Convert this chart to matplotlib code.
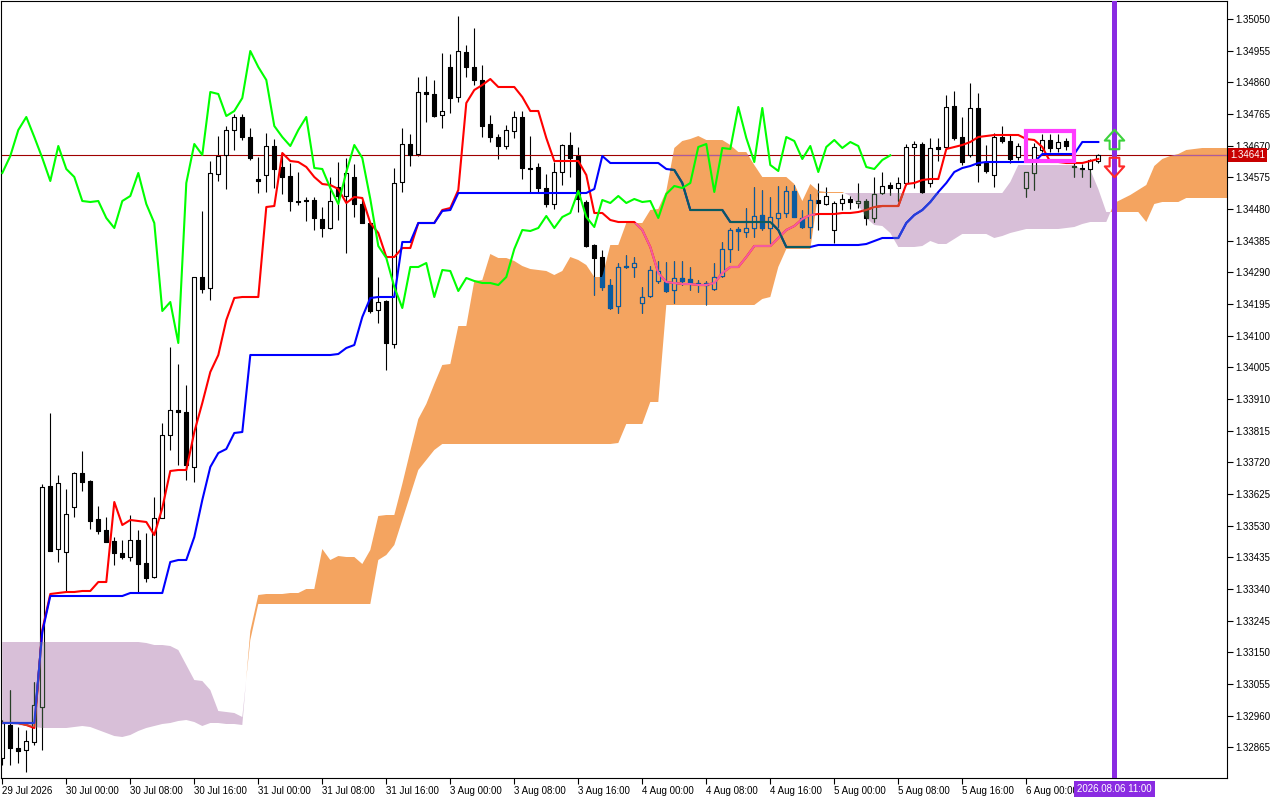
import numpy as np
import matplotlib.pyplot as plt
import matplotlib.transforms as mtransforms
from matplotlib.collections import LineCollection, PatchCollection
from matplotlib.patches import Rectangle
from matplotlib.path import Path
from matplotlib.colors import to_rgb

plt.rcParams['font.family'] = ['Liberation Sans', 'DejaVu Sans']

# GBPUSD-like H1 bars, 29 Jul 2026 16:00 .. 6 Aug 2026 09:00
opens = [
    1.32833, 1.32932, 1.32863, 1.32857, 1.32881, 1.32986, 1.33649, 1.33460, 1.33451, 1.33586,
    1.33688, 1.33664, 1.33550, 1.33517, 1.33484, 1.33448, 1.33436, 1.33487, 1.33418, 1.33376,
    1.33553, 1.33802, 1.33877, 1.33871, 1.33706, 1.34276, 1.34243, 1.34585, 1.34642, 1.34717,
    1.34756, 1.34696, 1.34570, 1.34582, 1.34669, 1.34606, 1.34579, 1.34504, 1.34507, 1.34507,
    1.34450, 1.34423, 1.34546, 1.34519, 1.34576, 1.34495, 1.34438, 1.34177, 1.34204, 1.34075,
    1.34561, 1.34675, 1.34645, 1.34831, 1.34825, 1.34762, 1.34906, 1.34816, 1.34951, 1.34906,
    1.34867, 1.34735, 1.34696, 1.34669, 1.34714, 1.34756, 1.34603, 1.34606, 1.34543, 1.34495,
    1.34591, 1.34672, 1.34639, 1.34501, 1.34372, 1.34336, 1.34252, 1.34189, 1.34309, 1.34306,
    1.34198, 1.34219, 1.34264, 1.34261, 1.34237, 1.34273, 1.34270, 1.34255, 1.34258, 1.34240,
    1.34279, 1.34360, 1.34420, 1.34411, 1.34423, 1.34462, 1.34423, 1.34453, 1.34468, 1.34534,
    1.34453, 1.34426, 1.34507, 1.34495, 1.34417, 1.34498, 1.34510, 1.34498, 1.34504, 1.34453,
    1.34528, 1.34552, 1.34543, 1.34558, 1.34666, 1.34675, 1.34558, 1.34666, 1.34666, 1.34789,
    1.34696, 1.34642, 1.34783, 1.34618, 1.34582, 1.34696, 1.34684, 1.34636, 1.34543, 1.34588,
    1.34657, 1.34687, 1.34663, 1.34684, 1.34609, 1.34603, 1.34600, 1.34624]
highs = [
    1.32947, 1.33037, 1.32926, 1.32917, 1.33061, 1.33655, 1.33868, 1.33682, 1.33640, 1.33691,
    1.33754, 1.33667, 1.33589, 1.33556, 1.33496, 1.33487, 1.33562, 1.33517, 1.33508, 1.33616,
    1.33838, 1.34066, 1.34015, 1.33952, 1.34276, 1.34474, 1.34624, 1.34699, 1.34729, 1.34765,
    1.34765, 1.34723, 1.34636, 1.34708, 1.34690, 1.34648, 1.34618, 1.34591, 1.34516, 1.34516,
    1.34486, 1.34576, 1.34621, 1.34633, 1.34615, 1.34507, 1.34441, 1.34276, 1.34207, 1.34603,
    1.34723, 1.34705, 1.34876, 1.34879, 1.34867, 1.34948, 1.34945, 1.35059, 1.34972, 1.35023,
    1.34912, 1.34762, 1.34705, 1.34732, 1.34774, 1.34774, 1.34699, 1.34618, 1.34585, 1.34621,
    1.34675, 1.34711, 1.34666, 1.34507, 1.34375, 1.34357, 1.34270, 1.34318, 1.34342, 1.34336,
    1.34246, 1.34309, 1.34324, 1.34321, 1.34324, 1.34324, 1.34306, 1.34267, 1.34264, 1.34318,
    1.34381, 1.34423, 1.34426, 1.34483, 1.34546, 1.34537, 1.34516, 1.34549, 1.34549, 1.34552,
    1.34477, 1.34525, 1.34558, 1.34546, 1.34504, 1.34525, 1.34519, 1.34558, 1.34510, 1.34576,
    1.34591, 1.34561, 1.34576, 1.34675, 1.34684, 1.34681, 1.34693, 1.34693, 1.34822, 1.34834,
    1.34756, 1.34858, 1.34828, 1.34672, 1.34708, 1.34729, 1.34702, 1.34678, 1.34591, 1.34678,
    1.34705, 1.34705, 1.34705, 1.34693, 1.34621, 1.34615, 1.34630, 1.34645]
lows = [
    1.32812, 1.32812, 1.32818, 1.32791, 1.32872, 1.32857, 1.33454, 1.33421, 1.33334, 1.33556,
    1.33634, 1.33520, 1.33505, 1.33481, 1.33412, 1.33430, 1.33424, 1.33328, 1.33361, 1.33373,
    1.33553, 1.33757, 1.33712, 1.33667, 1.33661, 1.34228, 1.34207, 1.34564, 1.34540, 1.34657,
    1.34687, 1.34627, 1.34528, 1.34531, 1.34543, 1.34525, 1.34474, 1.34492, 1.34444, 1.34417,
    1.34396, 1.34420, 1.34447, 1.34348, 1.34456, 1.34438, 1.34168, 1.34138, 1.33997, 1.34063,
    1.34531, 1.34609, 1.34639, 1.34741, 1.34756, 1.34723, 1.34768, 1.34801, 1.34876, 1.34852,
    1.34696, 1.34681, 1.34630, 1.34660, 1.34693, 1.34570, 1.34531, 1.34531, 1.34486, 1.34480,
    1.34552, 1.34576, 1.34471, 1.34366, 1.34222, 1.34237, 1.34180, 1.34168, 1.34303, 1.34276,
    1.34168, 1.34216, 1.34258, 1.34231, 1.34198, 1.34252, 1.34237, 1.34231, 1.34192, 1.34237,
    1.34276, 1.34321, 1.34357, 1.34396, 1.34396, 1.34417, 1.34378, 1.34426, 1.34456, 1.34456,
    1.34423, 1.34393, 1.34417, 1.34492, 1.34378, 1.34477, 1.34480, 1.34483, 1.34432, 1.34441,
    1.34525, 1.34522, 1.34504, 1.34552, 1.34543, 1.34528, 1.34546, 1.34624, 1.34663, 1.34687,
    1.34612, 1.34636, 1.34561, 1.34588, 1.34546, 1.34678, 1.34618, 1.34627, 1.34516, 1.34537,
    1.34651, 1.34651, 1.34651, 1.34657, 1.34576, 1.34576, 1.34546, 1.34618]
closes = [
    1.32938, 1.32863, 1.32854, 1.32884, 1.32992, 1.33646, 1.33454, 1.33658, 1.33565, 1.33688,
    1.33661, 1.33544, 1.33514, 1.33481, 1.33448, 1.33436, 1.33487, 1.33415, 1.33373, 1.33553,
    1.33802, 1.33877, 1.33871, 1.33712, 1.34276, 1.34240, 1.34588, 1.34639, 1.34717, 1.34756,
    1.34696, 1.34633, 1.34564, 1.34669, 1.34600, 1.34576, 1.34504, 1.34501, 1.34504, 1.34453,
    1.34423, 1.34504, 1.34519, 1.34588, 1.34495, 1.34438, 1.34174, 1.34201, 1.34078, 1.34558,
    1.34675, 1.34642, 1.34831, 1.34825, 1.34759, 1.34774, 1.34813, 1.34954, 1.34906, 1.34867,
    1.34729, 1.34696, 1.34669, 1.34717, 1.34756, 1.34603, 1.34600, 1.34543, 1.34495, 1.34591,
    1.34672, 1.34633, 1.34510, 1.34369, 1.34333, 1.34246, 1.34183, 1.34306, 1.34306, 1.34318,
    1.34216, 1.34297, 1.34294, 1.34234, 1.34273, 1.34264, 1.34258, 1.34258, 1.34252, 1.34276,
    1.34360, 1.34417, 1.34414, 1.34423, 1.34459, 1.34423, 1.34456, 1.34468, 1.34534, 1.34456,
    1.34426, 1.34507, 1.34498, 1.34519, 1.34498, 1.34510, 1.34501, 1.34504, 1.34453, 1.34525,
    1.34549, 1.34543, 1.34558, 1.34666, 1.34675, 1.34531, 1.34663, 1.34660, 1.34786, 1.34693,
    1.34621, 1.34783, 1.34612, 1.34594, 1.34696, 1.34684, 1.34630, 1.34669, 1.34591, 1.34666,
    1.34687, 1.34663, 1.34681, 1.34669, 1.34606, 1.34600, 1.34627, 1.34641]

# Ichimoku lines as shown (tenkan red, kijun blue)
tenkan = [
    1.32938, 1.32938, 1.32938, 1.32932, 1.32923, 1.33217, 1.33325, 1.33328, 1.33331, 1.33331,
    1.33334, 1.33334, 1.33361, 1.33361, 1.33601, 1.33532, 1.33547, 1.33544, 1.33541, 1.33502,
    1.33583, 1.33694, 1.33697, 1.33697, 1.33811, 1.33898, 1.33991, 1.34042, 1.34147, 1.34213,
    1.34216, 1.34216, 1.34216, 1.34486, 1.34489, 1.34648, 1.34624, 1.34621, 1.34606, 1.34576,
    1.34555, 1.34552, 1.34540, 1.34498, 1.34516, 1.34513, 1.34438, 1.34408, 1.34336, 1.34336,
    1.34363, 1.34363, 1.34438, 1.34438, 1.34438, 1.34477, 1.34483, 1.34537, 1.34798, 1.34837,
    1.34852, 1.34870, 1.34846, 1.34846, 1.34846, 1.34816, 1.34774, 1.34774, 1.34693, 1.34624,
    1.34624, 1.34624, 1.34624, 1.34582, 1.34468, 1.34468, 1.34447, 1.34441, 1.34441, 1.34441,
    1.34417, 1.34366, 1.34288, 1.34261, 1.34258, 1.34255, 1.34255, 1.34252, 1.34252, 1.34258,
    1.34288, 1.34306, 1.34306, 1.34336, 1.34369, 1.34369, 1.34369, 1.34393, 1.34417, 1.34429,
    1.34450, 1.34462, 1.34465, 1.34465, 1.34465, 1.34468, 1.34468, 1.34471, 1.34477, 1.34486,
    1.34489, 1.34489, 1.34489, 1.34555, 1.34558, 1.34567, 1.34570, 1.34570, 1.34660, 1.34666,
    1.34672, 1.34681, 1.34696, 1.34699, 1.34702, 1.34702, 1.34702, 1.34702, 1.34690, 1.34687,
    1.34666, 1.34621, 1.34621, 1.34618, 1.34618, 1.34618, 1.34624, 1.34630]
kijun = [
    1.32938, 1.32938, 1.32938, 1.32938, 1.32938, 1.33211, 1.33319, 1.33319, 1.33319, 1.33319,
    1.33319, 1.33319, 1.33319, 1.33319, 1.33319, 1.33319, 1.33328, 1.33328, 1.33328, 1.33328,
    1.33328, 1.33421, 1.33427, 1.33427, 1.33496, 1.33607, 1.33706, 1.33748, 1.33760, 1.33808,
    1.33811, 1.34042, 1.34042, 1.34042, 1.34042, 1.34042, 1.34042, 1.34042, 1.34042, 1.34042,
    1.34042, 1.34042, 1.34045, 1.34063, 1.34072, 1.34156, 1.34213, 1.34216, 1.34216, 1.34216,
    1.34381, 1.34381, 1.34438, 1.34438, 1.34438, 1.34474, 1.34477, 1.34528, 1.34528, 1.34528,
    1.34528, 1.34528, 1.34528, 1.34528, 1.34528, 1.34528, 1.34528, 1.34528, 1.34528, 1.34528,
    1.34528, 1.34528, 1.34528, 1.34528, 1.34540, 1.34639, 1.34618, 1.34618, 1.34618, 1.34618,
    1.34618, 1.34618, 1.34618, 1.34600, 1.34597, 1.34558, 1.34477, 1.34477, 1.34477, 1.34477,
    1.34477, 1.34441, 1.34441, 1.34441, 1.34441, 1.34441, 1.34441, 1.34417, 1.34366, 1.34366,
    1.34366, 1.34366, 1.34372, 1.34372, 1.34372, 1.34372, 1.34372, 1.34372, 1.34375, 1.34384,
    1.34393, 1.34393, 1.34393, 1.34438, 1.34462, 1.34477, 1.34501, 1.34531, 1.34558, 1.34591,
    1.34603, 1.34609, 1.34618, 1.34621, 1.34621, 1.34621, 1.34621, 1.34621, 1.34621, 1.34621,
    1.34645, 1.34645, 1.34645, 1.34645, 1.34645, 1.34681, 1.34681, 1.34681]
# Senkou spans as plotted (already shifted 26 bars ahead)
span_a = [
    1.32935, 1.32935, 1.32932, 1.32929, 1.32926, 1.32923, 1.32923, 1.32923, 1.32923, 1.32926,
    1.32929, 1.32926, 1.32917, 1.32908, 1.32899, 1.32896, 1.32902, 1.32914, 1.32923, 1.32929,
    1.32935, 1.32938, 1.32944, 1.32947, 1.32941, 1.32929, 1.32938, 1.32938, 1.32935, 1.32935,
    1.32932, 1.33214, 1.33322, 1.33325, 1.33325, 1.33325, 1.33328, 1.33328, 1.33340, 1.33340,
    1.33460, 1.33427, 1.33439, 1.33436, 1.33436, 1.33415, 1.33457, 1.33559, 1.33562, 1.33562,
    1.33655, 1.33754, 1.33850, 1.33895, 1.33955, 1.34012, 1.34015, 1.34129, 1.34129, 1.34264,
    1.34267, 1.34345, 1.34333, 1.34333, 1.34324, 1.34309, 1.34300, 1.34297, 1.34294, 1.34282,
    1.34294, 1.34336, 1.34327, 1.34312, 1.34276, 1.34276, 1.34372, 1.34372, 1.34438, 1.34438,
    1.34438, 1.34477, 1.34480, 1.34534, 1.34663, 1.34684, 1.34690, 1.34699, 1.34687, 1.34687,
    1.34687, 1.34672, 1.34651, 1.34651, 1.34612, 1.34576, 1.34576, 1.34576, 1.34576, 1.34555,
    1.34504, 1.34555, 1.34534, 1.34531, 1.34531, 1.34531, 1.34519, 1.34492, 1.34453, 1.34432,
    1.34429, 1.34408, 1.34366, 1.34366, 1.34366, 1.34369, 1.34384, 1.34375, 1.34375, 1.34390,
    1.34405, 1.34405, 1.34405, 1.34405, 1.34393, 1.34399, 1.34408, 1.34414, 1.34420, 1.34420,
    1.34420, 1.34420, 1.34420, 1.34423, 1.34426, 1.34435, 1.34441, 1.34441, 1.34441, 1.34498,
    1.34510, 1.34522, 1.34537, 1.34552, 1.34609, 1.34630, 1.34639, 1.34645, 1.34657, 1.34660,
    1.34663, 1.34663, 1.34663, 1.34663, 1.34657]
span_b = [
    1.33181, 1.33181, 1.33181, 1.33181, 1.33181, 1.33181, 1.33181, 1.33181, 1.33181, 1.33181,
    1.33181, 1.33181, 1.33181, 1.33181, 1.33181, 1.33181, 1.33181, 1.33181, 1.33178, 1.33172,
    1.33172, 1.33169, 1.33157, 1.33112, 1.33067, 1.33064, 1.33037, 1.32974, 1.32971, 1.32968,
    1.32956, 1.33187, 1.33295, 1.33295, 1.33295, 1.33295, 1.33295, 1.33295, 1.33295, 1.33295,
    1.33295, 1.33295, 1.33295, 1.33295, 1.33295, 1.33295, 1.33295, 1.33427, 1.33442, 1.33472,
    1.33547, 1.33622, 1.33697, 1.33727, 1.33757, 1.33775, 1.33775, 1.33775, 1.33775, 1.33775,
    1.33775, 1.33775, 1.33775, 1.33775, 1.33775, 1.33775, 1.33775, 1.33775, 1.33775, 1.33775,
    1.33775, 1.33775, 1.33775, 1.33775, 1.33775, 1.33775, 1.33775, 1.33778, 1.33835, 1.33835,
    1.33835, 1.33901, 1.33901, 1.34192, 1.34192, 1.34192, 1.34192, 1.34192, 1.34192, 1.34192,
    1.34192, 1.34192, 1.34192, 1.34192, 1.34192, 1.34210, 1.34216, 1.34306, 1.34360, 1.34360,
    1.34360, 1.34360, 1.34528, 1.34528, 1.34528, 1.34528, 1.34528, 1.34528, 1.34528, 1.34528,
    1.34528, 1.34528, 1.34528, 1.34528, 1.34528, 1.34528, 1.34528, 1.34528, 1.34528, 1.34528,
    1.34528, 1.34528, 1.34528, 1.34528, 1.34528, 1.34528, 1.34561, 1.34612, 1.34612, 1.34612,
    1.34612, 1.34612, 1.34612, 1.34612, 1.34612, 1.34597, 1.34597, 1.34540, 1.34471, 1.34471,
    1.34471, 1.34471, 1.34471, 1.34441, 1.34495, 1.34501, 1.34501, 1.34501, 1.34513, 1.34513,
    1.34513, 1.34513, 1.34513, 1.34513, 1.34513]

bid = 1.34641
time_ticks = [0, 8, 16, 24, 32, 40, 48, 56, 64, 72, 80, 88, 96, 104, 112, 120, 128]
time_labels = ['29 Jul 2026', '30 Jul 00:00', '30 Jul 08:00', '30 Jul 16:00', '31 Jul 00:00',
               '31 Jul 08:00', '31 Jul 16:00', '3 Aug 00:00', '3 Aug 08:00', '3 Aug 16:00',
               '4 Aug 00:00', '4 Aug 08:00', '4 Aug 16:00', '5 Aug 00:00', '5 Aug 08:00',
               '5 Aug 16:00', '6 Aug 00:00']
price_ticks = ['1.35050', '1.34955', '1.34860', '1.34765', '1.34670', '1.34575', '1.34480',
               '1.34385', '1.34290', '1.34195', '1.34100', '1.34005', '1.33910', '1.33815',
               '1.33720', '1.33625', '1.33530', '1.33435', '1.33340', '1.33245', '1.33150',
               '1.33055', '1.32960', '1.32865']

# chart objects
signal_bar = 139
signal_time = '2026.08.06 11:00'
up_arrow_price = 1.34690
down_arrow_price = 1.34606
box_bars = (128, 134)
box_prices = (1.34624, 1.34714)

SAND = '#f4a460'
THISTLE = '#d8bfd8'
BID_COL = '#a00000'


def notxor(c, bg):
    # MT5 draws the kumo with a NOTXOR pen over what is already on the chart
    a = np.round(np.array(to_rgb(c)) * 255).astype(int)
    b = np.round(np.array(to_rgb(bg)) * 255).astype(int)
    return tuple((255 - (a ^ b)) / 255.0)


o = np.array(opens)
h = np.array(highs)
l = np.array(lows)
c = np.array(closes)
bars = np.arange(len(c))
up = c >= o

fig = plt.figure(figsize=(12.8, 8), dpi=100)
ax = fig.add_axes([1 / 1280, 22 / 800, 1226 / 1280, 777 / 800])

a = np.array(span_a)
b = np.array(span_b)
xc = np.arange(len(a))
kumo_up = ax.fill_between(xc, a, b, where=a >= b, interpolate=True, color=SAND, lw=0, zorder=1)
kumo_dn = ax.fill_between(xc, a, b, where=a < b, interpolate=True, color=THISTLE, lw=0, zorder=1)
path_up = Path.make_compound_path(*kumo_up.get_paths())
path_dn = Path.make_compound_path(*kumo_dn.get_paths())


def draw_marks(bg=None, clip=None, z=2):
    def col(k):
        return k if bg is None else notxor(k, bg)
    arts = []
    segs = [[(i, l[i]), (i, h[i])] for i in bars]
    arts.append(ax.add_collection(LineCollection(segs, colors=[col('black')], linewidths=0.8, zorder=z)))
    rects = [Rectangle((i - 0.27, min(o[i], c[i])), 0.54, max(abs(c[i] - o[i]), 1e-6)) for i in bars]
    faces = [col('white') if up[i] else col('black') for i in bars]
    arts.append(ax.add_collection(PatchCollection(rects, facecolors=faces, edgecolors=[col('black')],
                                                  linewidths=0.8, zorder=z + 0.1)))
    arts.append(ax.axhline(bid, color=col(BID_COL), lw=0.8, zorder=z + 0.05))
    arts += ax.plot(bars, tenkan, color=col('red'), lw=1.5, zorder=z + 0.2)
    arts += ax.plot(bars, kijun, color=col('blue'), lw=1.5, zorder=z + 0.2)
    if clip is not None:
        for art in arts:
            art.set_clip_path(clip, ax.transData)


draw_marks()
draw_marks(SAND, path_up, z=3)
draw_marks(THISTLE, path_dn, z=3)

# chikou span on top of the kumo
ax.plot(bars[:-26], c[26:], color='#00ff00', lw=1.5, zorder=5)

# objects
ax.add_patch(Rectangle((box_bars[0], box_prices[0]), box_bars[1] - box_bars[0],
                       box_prices[1] - box_prices[0], fill=False, ec='#ff3cff', lw=3, zorder=7))
ax.axvline(signal_bar, color='#8a2be2', lw=3.6, zorder=8)
up_path = Path([(0, 9), (9, -1), (4.5, -1), (4.5, -9), (-4.5, -9), (-4.5, -1), (-9, -1), (0, 9)], closed=True)
dn_path = Path([(0, -9), (9, 1), (4.5, 1), (4.5, 9), (-4.5, 9), (-4.5, 1), (-9, 1), (0, -9)], closed=True)
ax.plot([signal_bar], [up_arrow_price], ls='none', marker=up_path, ms=14, mfc='none', mec='#3cd23c', mew=1.5, zorder=9)
ax.plot([signal_bar], [down_arrow_price], ls='none', marker=dn_path, ms=14, mfc='none', mec='#ff2828', mew=1.5, zorder=9)

ax.set_xlim((1 - 2.3) / 8, (1227 - 2.3) / 8)
ax.yaxis.tick_right()
ax.set_yticks([float(t) for t in price_ticks])
ax.set_yticklabels(price_ticks)
ax.set_ylim(1.32773, 1.35104)
ax.set_xticks(time_ticks)
ax.set_xticklabels(time_labels, ha='left')
ax.tick_params(axis='y', direction='out', length=4, width=0.8, pad=2, labelsize=7)
ax.tick_params(axis='x', direction='out', length=4, width=0.8, pad=2, labelsize=7)
for sp in ax.spines.values():
    sp.set_linewidth(0.8)
    sp.set_color('black')

tr_y = mtransforms.blended_transform_factory(ax.transAxes, ax.transData)
ax.text(1.0024, bid, f'{bid:.5f}', transform=tr_y, ha='left', va='center', fontsize=7, color='white',
        bbox=dict(boxstyle='square,pad=0.2', fc='#c80000', ec='none'), clip_on=False, zorder=10)
tr_x = mtransforms.blended_transform_factory(ax.transData, ax.transAxes)
ax.text(signal_bar, -11 / 777, signal_time, transform=tr_x, ha='center', va='center', fontsize=7,
        color='white', bbox=dict(boxstyle='square,pad=0.3', fc='#8a2be2', ec='none'), clip_on=False, zorder=10)

fig.savefig('out.png', dpi=100)
